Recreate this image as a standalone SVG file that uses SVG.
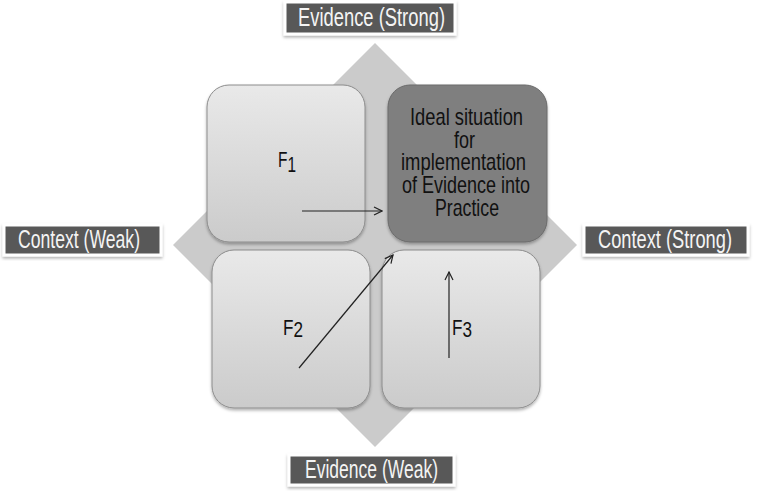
<svg xmlns="http://www.w3.org/2000/svg" width="757" height="493" viewBox="0 0 757 493">
<style>
.t{font-family:"Liberation Sans",Arial,sans-serif;}
.lbl{fill:#595959;stroke:#ffffff;stroke-width:3;filter:url(#sh);}
.lt{fill:#f4f4f4;font-size:25px;}
.box{fill:url(#g);stroke:#8c8c8c;stroke-width:1;filter:url(#sh);}
.ideal{fill:#7f7f7f;stroke:#6a6a6a;stroke-width:1;filter:url(#sh);}
.ft{fill:#111;font-size:22px;}
.it{fill:#111;font-size:24px;}
.c{stroke:#222;stroke-width:1.2;fill:none;marker-end:url(#ah);}
</style>
<defs>
<linearGradient id="g" x1="0" y1="0" x2="0" y2="1">
<stop offset="0" stop-color="#e9e9e9"/>
<stop offset="1" stop-color="#cbcbcb"/>
</linearGradient>
<filter id="sh" x="-10%" y="-10%" width="120%" height="130%">
<feDropShadow dx="0" dy="2" stdDeviation="1.5" flood-color="#000" flood-opacity="0.3"/>
</filter>
<marker id="ah" markerWidth="10" markerHeight="10" refX="9" refY="5" orient="auto" markerUnits="userSpaceOnUse">
<path d="M1,1 L9,5 L1,9" fill="none" stroke="#222" stroke-width="1.2"/>
</marker>
</defs>
<rect width="757" height="493" fill="#ffffff"/>
<polygon points="375,43 577,245 375,447 173,245" fill="#cbcbcb"/>
<g id="F1"><rect class="box" x="207" y="85" width="158" height="157" rx="22"/>
<text class="t ft" x="278" y="167" textLength="18" lengthAdjust="spacingAndGlyphs">F<tspan dy="5">1</tspan></text></g>
<g id="ideal"><rect class="ideal" x="388" y="85" width="159" height="157" rx="22"/>
<text class="t it" x="410" y="125" textLength="113" lengthAdjust="spacingAndGlyphs">Ideal situation</text>
<text class="t it" x="454" y="148" textLength="21" lengthAdjust="spacingAndGlyphs">for</text>
<text class="t it" x="401" y="170" textLength="125" lengthAdjust="spacingAndGlyphs">implementation</text>
<text class="t it" x="402" y="193" textLength="128" lengthAdjust="spacingAndGlyphs">of Evidence into</text>
<text class="t it" x="435" y="216" textLength="64" lengthAdjust="spacingAndGlyphs">Practice</text></g>
<g id="F2"><rect class="box" x="212" y="250" width="158" height="158" rx="22"/>
<text class="t ft" x="283" y="335" textLength="20" lengthAdjust="spacingAndGlyphs">F<tspan dy="2">2</tspan></text></g>
<g id="F3"><rect class="box" x="382" y="250" width="158" height="158" rx="22"/>
<text class="t ft" x="452" y="335" textLength="20" lengthAdjust="spacingAndGlyphs">F<tspan dy="2">3</tspan></text></g>
<g id="evStrong"><rect class="lbl" x="285" y="2" width="170" height="32"/>
<text class="t lt" x="298" y="26" textLength="147" lengthAdjust="spacingAndGlyphs">Evidence (Strong)</text></g>
<g id="ctxWeak"><rect class="lbl" x="4" y="225" width="157" height="30"/>
<text class="t lt" x="18" y="248" textLength="122" lengthAdjust="spacingAndGlyphs">Context (Weak)</text></g>
<g id="ctxStrong"><rect class="lbl" x="584" y="225" width="164" height="30"/>
<text class="t lt" x="598" y="248" textLength="134" lengthAdjust="spacingAndGlyphs">Context (Strong)</text></g>
<g id="evWeak"><rect class="lbl" x="289" y="455" width="165" height="30"/>
<text class="t lt" x="305" y="478" textLength="133" lengthAdjust="spacingAndGlyphs">Evidence (Weak)</text></g>
<g id="connectors">
<line class="c" x1="302" y1="211" x2="382" y2="211"/>
<line class="c" x1="299" y1="368" x2="393" y2="255"/>
<line class="c" x1="449" y1="358" x2="449" y2="272"/>
</g>
</svg>
